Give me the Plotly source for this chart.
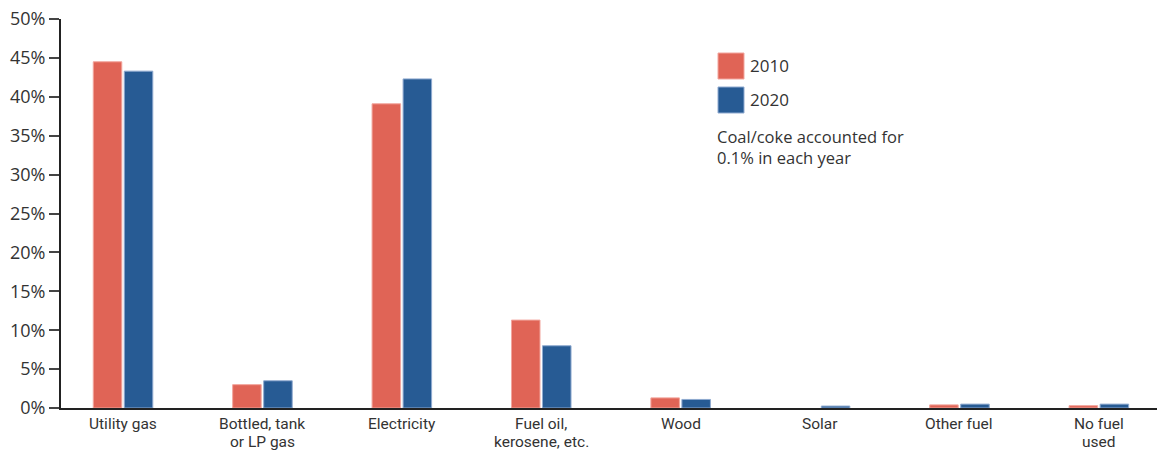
import plotly.graph_objects as go

categories = ["Utility gas", "Bottled, tank\nor LP gas", "Electricity", "Fuel oil,\nkerosene, etc.",
              "Wood", "Solar", "Other fuel", "No fuel\nused"]
vals_2010 = [44.5, 3.0, 39.1, 11.3, 1.3, 0.0, 0.4, 0.3]
vals_2020 = [43.3, 3.5, 42.3, 8.0, 1.1, 0.25, 0.5, 0.5]
y_ticks = [0, 5, 10, 15, 20, 25, 30, 35, 40, 45, 50]
y_labels = [f"{v}%" for v in y_ticks]

RED = "#E06456"
BLUE = "#275B94"
FONT = "Open Sans"
XFONT = "Roboto"
TXT = "#333333"

W, H = 1157, 451
L, R, T, B = 61, 0, 19, 43
pw, ph = W - L - R, H - T - B

def px_x(x):
    return (x - L) / pw

def px_y(y):
    return (H - B - y) / ph

def lw(vals):
    return [1 if v > 0 else 0 for v in vals]

xs = list(range(len(categories)))

fig = go.Figure()
fig.add_trace(go.Bar(x=xs, y=vals_2010, name="2010",
                     marker=dict(color=RED, line=dict(color="#F2A59D", width=lw(vals_2010)))))
fig.add_trace(go.Bar(x=xs, y=vals_2020, name="2020",
                     marker=dict(color=BLUE, line=dict(color="#8FAAD0", width=lw(vals_2020)))))

shapes = []
annotations = []
for (y0, y1, c, lc, lab, yc) in [(53, 79, RED, "#F2A59D", "2010", 66), (87, 113, BLUE, "#8FAAD0", "2020", 100)]:
    shapes.append(dict(type="rect", xref="paper", yref="paper", x0=px_x(718), x1=px_x(744),
                       y0=px_y(y1), y1=px_y(y0), fillcolor=c, line=dict(color=lc, width=1)))
    annotations.append(dict(xref="paper", yref="paper", x=px_x(748), y=px_y(yc - 0.5), text=lab,
                            showarrow=False, xanchor="left", yanchor="middle",
                            font=dict(family=FONT, size=17, color=TXT)))
annotations.append(dict(xref="paper", yref="paper", x=px_x(715), y=px_y(146.5),
                        text="Coal/coke accounted for<br>0.1% in each year", showarrow=False,
                        xanchor="left", yanchor="middle", align="left",
                        font=dict(family=FONT, size=16.5, color=TXT)))

# category labels
for i, cat in enumerate(categories):
    for j, line in enumerate(cat.split("\n")):
        annotations.append(dict(xref="x", yref="paper", x=i, y=px_y(424 + 18.3 * j), text=line,
                                showarrow=False, xanchor="center", yanchor="middle",
                                font=dict(family=XFONT, size=15.5, color=TXT)))

fig.update_layout(
    width=W, height=H, margin=dict(l=L, r=R, t=T, b=B),
    paper_bgcolor="white", plot_bgcolor="white",
    barmode="group", bargap=0.555, bargroupgap=0.08,
    showlegend=False, shapes=shapes, annotations=annotations,
    font=dict(family=FONT, color=TXT),
)
fig.update_xaxes(tickmode="array", tickvals=xs, showticklabels=False,
                 range=[-0.445, 7.417], showline=True, linecolor="#222222", linewidth=2,
                 ticks="", showgrid=False, automargin=False)
fig.update_yaxes(range=[0, 50], tickmode="array", tickvals=y_ticks, ticktext=y_labels,
                 showline=True, linecolor="#222222", linewidth=2, ticks="outside", ticklen=10,
                 tickcolor="#444444", tickwidth=1.5, showgrid=False, zeroline=False,
                 automargin=False, tickfont=dict(family=FONT, size=18, color=TXT))

fig.write_html("out.html")
